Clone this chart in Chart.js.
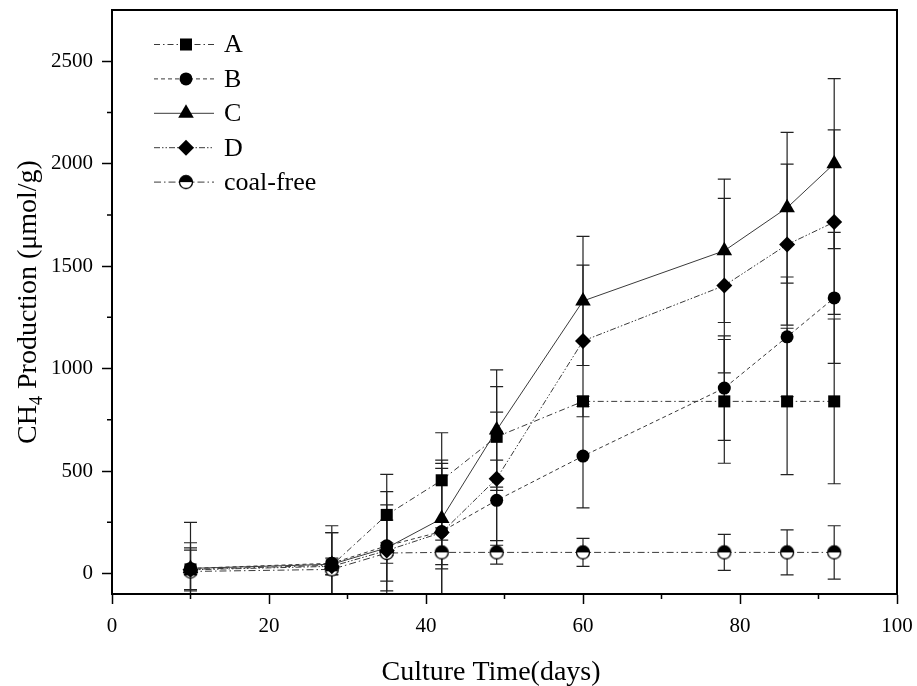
<!DOCTYPE html>
<html>
<head>
<meta charset="utf-8">
<script src="https://cdn.jsdelivr.net/npm/chart.js@4/dist/chart.umd.min.js"></script>
<style>
  html, body { margin: 0; padding: 0; background: #fff; }
  #wrap { width: 917px; height: 686px; }
</style>
</head>
<body>
<div id="wrap"><canvas id="ch4Chart" width="917" height="686"></canvas></div>
<script>
(function () {
    // culture days and CH4 yields (µmol/g)
    const days = [10, 28, 35, 42, 49, 60, 78, 86, 92];
    const valuesA = [20, 40, 286, 455, 667, 840, 840, 840, 840];
    const errorsA = [105, 160, 198, 232, 245, 25, 302, 357, 402];
    const valuesB = [25, 50, 135, 205, 357, 573, 905, 1155, 1345];
    const errorsB = [125, 183, 265, 332, 196, 253, 255, 292, 320];
    const valuesC = [25, 45, 125, 268, 700, 1330, 1575, 1785, 2000];
    const errorsC = [225, 155, 210, 245, 294, 315, 350, 368, 415];
    const valuesD = [18, 35, 112, 200, 463, 1135, 1405, 1605, 1715];
    const errorsD = [96, 40, 149, 353, 325, 370, 426, 393, 450];
    const valuesFree = [10, 20, 100, 103, 103, 103, 103, 103, 103];
    const errorsFree = [15, 27, 50, 60, 57, 68, 88, 110, 130];
    const seriesNames = ['A', 'B', 'C', 'D', 'coal-free'];
    const xTicks = [0, 20, 40, 60, 80, 100];
    const xMinorTicks = [10, 30, 50, 70, 90];
    const yTicks = [0, 500, 1000, 1500, 2000, 2500];
    const yMinorTicks = [250, 750, 1250, 1750, 2250];

    const serif = '"Liberation Serif", "Times New Roman", Times, serif';
    const lineColor = '#3a3a3a';

    // half black / half white circle used for coal-free
    function halfCircle(r) {
        const c = document.createElement('canvas');
        const s = Math.ceil(r * 2 + 3);
        c.width = s; c.height = s;
        const g = c.getContext('2d');
        const m = s / 2;
        g.fillStyle = '#fff';
        g.beginPath(); g.arc(m, m, r, 0, Math.PI * 2); g.fill();
        g.fillStyle = '#000';
        g.beginPath(); g.arc(m, m, r, Math.PI, Math.PI * 2); g.closePath(); g.fill();
        g.strokeStyle = '#000'; g.lineWidth = 1.3;
        g.beginPath(); g.arc(m, m, r, 0, Math.PI * 2); g.stroke();
        return c;
    }

    const toPoints = vals => days.map((d, i) => ({ x: d, y: vals[i] }));

    const specs = [
        { vals: valuesA, errs: errorsA, style: 'rect', radius: 8.5, dash: [6, 3, 1.5, 3] },
        { vals: valuesB, errs: errorsB, style: 'circle', radius: 6.5, dash: [4, 3] },
        { vals: valuesC, errs: errorsC, style: 'triangle', radius: 9, dash: [] },
        { vals: valuesD, errs: errorsD, style: 'rectRot', radius: 8, dash: [6, 2, 1.5, 2, 1.5, 2] },
        { vals: valuesFree, errs: errorsFree, style: halfCircle(6.5), radius: 7, dash: [7, 3, 1.5, 3] }
    ];

    const datasets = specs.map((s, i) => ({
        label: seriesNames[i],
        data: toPoints(s.vals),
        errors: s.errs,
        borderColor: lineColor,
        borderWidth: 1,
        borderDash: s.dash,
        pointStyle: s.style,
        pointRadius: s.radius,
        pointHoverRadius: s.radius,
        pointBackgroundColor: '#000',
        pointBorderColor: '#000',
        pointBorderWidth: 0,
        tension: 0,
        fill: false
    }));

    // vertical error bars with caps
    const errorBars = {
        id: 'errorBars',
        beforeDatasetsDraw(chart) {
            const { ctx, chartArea, scales: { y } } = chart;
            ctx.save();
            ctx.beginPath();
            ctx.rect(chartArea.left, chartArea.top, chartArea.right - chartArea.left, chartArea.bottom - chartArea.top);
            ctx.clip();
            ctx.strokeStyle = '#222';
            ctx.lineWidth = 1.2;
            chart.data.datasets.forEach((ds, di) => {
                const meta = chart.getDatasetMeta(di);
                meta.data.forEach((pt, i) => {
                    const v = ds.data[i].y, e = ds.errors[i];
                    const yt = y.getPixelForValue(v + e);
                    const yb = y.getPixelForValue(v - e);
                    ctx.beginPath();
                    ctx.moveTo(pt.x, yt); ctx.lineTo(pt.x, yb);
                    ctx.moveTo(pt.x - 6.5, yt); ctx.lineTo(pt.x + 6.5, yt);
                    ctx.moveTo(pt.x - 6.5, yb); ctx.lineTo(pt.x + 6.5, yb);
                    ctx.stroke();
                });
            });
            ctx.restore();
        }
    };

    // frame, minor ticks, axis titles and legend
    const decorations = {
        id: 'decorations',
        afterDraw(chart) {
            const { ctx, chartArea: a, scales: { x, y } } = chart;
            ctx.save();
            ctx.strokeStyle = '#000';
            ctx.lineWidth = 2;
            ctx.strokeRect(a.left, a.top, a.right - a.left, a.bottom - a.top);

            ctx.lineWidth = 1.5;
            ctx.beginPath();
            xMinorTicks.forEach(v => {
                const px = x.getPixelForValue(v);
                ctx.moveTo(px, a.bottom); ctx.lineTo(px, a.bottom + 5);
            });
            yMinorTicks.forEach(v => {
                const py = y.getPixelForValue(v);
                ctx.moveTo(a.left, py); ctx.lineTo(a.left - 5, py);
            });
            ctx.stroke();

            // x title
            ctx.fillStyle = '#000';
            ctx.font = `28px ${serif}`;
            ctx.textAlign = 'center';
            ctx.textBaseline = 'alphabetic';
            ctx.fillText('Culture Time(days)', 491, 680);

            // y title with subscript
            ctx.translate(36, (a.top + a.bottom) / 2);
            ctx.rotate(-Math.PI / 2);
            const big = `28px ${serif}`, small = `18px ${serif}`;
            const p1 = 'CH', p2 = '4', p3 = ' Production (\u03bcmol/g)';
            ctx.font = big; const w1 = ctx.measureText(p1).width, w3 = ctx.measureText(p3).width;
            ctx.font = small; const w2 = ctx.measureText(p2).width;
            let cx = -(w1 + w2 + w3) / 2;
            ctx.textAlign = 'left';
            ctx.textBaseline = 'alphabetic';
            ctx.font = big; ctx.fillText(p1, cx, 0); cx += w1;
            ctx.font = small; ctx.fillText(p2, cx, 6); cx += w2;
            ctx.font = big; ctx.fillText(p3, cx, 0);
            ctx.setTransform(1, 0, 0, 1, 0, 0);

            // legend: line + marker + label
            chart.data.datasets.forEach((ds, i) => {
                const ly = 44.5 + i * 34.4;
                ctx.strokeStyle = lineColor;
                ctx.lineWidth = 1;
                ctx.setLineDash(ds.borderDash);
                ctx.beginPath(); ctx.moveTo(154, ly); ctx.lineTo(214, ly); ctx.stroke();
                ctx.setLineDash([]);
                ctx.fillStyle = '#000';
                Chart.helpers.drawPoint(ctx, {
                    pointStyle: ds.pointStyle, radius: ds.pointRadius, rotation: 0, borderWidth: 0
                }, 186, ly);
                ctx.fillStyle = '#000';
                ctx.font = `26px ${serif}`;
                ctx.textAlign = 'left';
                ctx.textBaseline = 'middle';
                ctx.fillText(ds.label, 224, ly + 1);
            });
            ctx.restore();
        }
    };

    new Chart(document.getElementById('ch4Chart'), {
        type: 'line',
        data: { datasets },
        options: {
            responsive: false,
            animation: false,
            layout: { padding: { left: 0, right: 20, top: 10, bottom: 0 } },
            plugins: {
                legend: { display: false },
                tooltip: { enabled: false }
            },
            scales: {
                x: {
                    type: 'linear',
                    min: 0, max: 100,
                    afterBuildTicks: s => { s.ticks = xTicks.map(v => ({ value: v })); },
                    afterFit: s => { s.height = 92; s.paddingLeft = 0; s.paddingRight = 0; },
                    border: { display: true, color: '#000', width: 2 },
                    grid: { drawOnChartArea: false, drawTicks: true, tickLength: 10, tickColor: '#000', tickWidth: 1.5 },
                    ticks: { color: '#000', padding: 10, font: { family: serif, size: 21 } }
                },
                y: {
                    type: 'linear',
                    min: -100, max: 2750,
                    afterBuildTicks: s => { s.ticks = yTicks.map(v => ({ value: v })); },
                    afterFit: s => { s.width = 112; s.paddingTop = 0; s.paddingBottom = 0; },
                    border: { display: true, color: '#000', width: 2 },
                    grid: { drawOnChartArea: false, drawTicks: true, tickLength: 10, tickColor: '#000', tickWidth: 1.5 },
                    ticks: { color: '#000', padding: 9, font: { family: serif, size: 21 }, callback: v => String(v) }
                }
            }
        },
        plugins: [errorBars, decorations]
    });
})();
</script>
</body>
</html>
